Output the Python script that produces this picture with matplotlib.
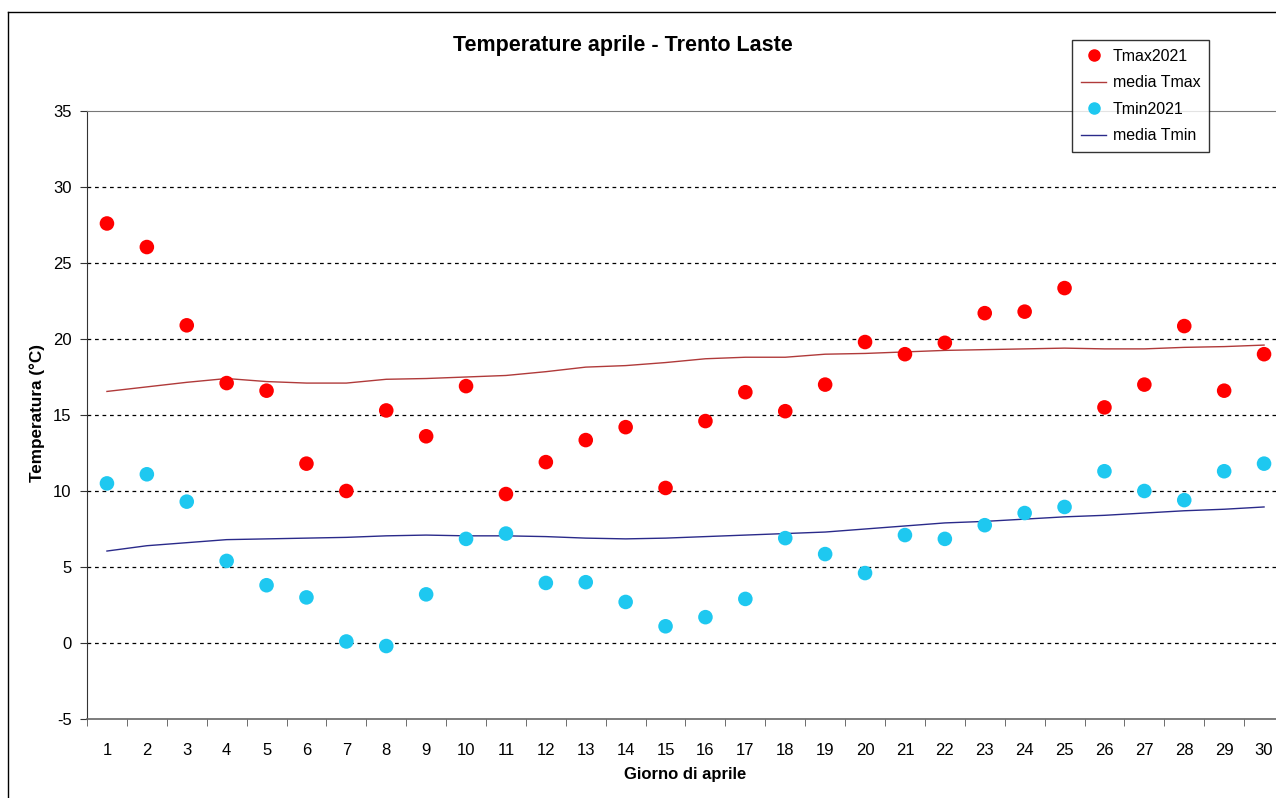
import matplotlib.pyplot as plt
from matplotlib.lines import Line2D

plt.rcParams['font.family'] = ['Liberation Sans', 'DejaVu Sans']
plt.rcParams['axes.unicode_minus'] = False

# DATI
giorni = list(range(1, 31))
tmax_2021 = [27.6, 26.05, 20.9, 17.1, 16.6, 11.8, 10.0, 15.3, 13.6, 16.9,
             9.8, 11.9, 13.35, 14.2, 10.2, 14.6, 16.5, 15.25, 17.0, 19.8,
             19.0, 19.75, 21.7, 21.8, 23.35, 15.5, 17.0, 20.85, 16.6, 19.0]
tmin_2021 = [10.5, 11.1, 9.3, 5.4, 3.8, 3.0, 0.1, -0.2, 3.2, 6.85,
             7.2, 3.95, 4.0, 2.7, 1.1, 1.7, 2.9, 6.9, 5.85, 4.6,
             7.1, 6.85, 7.75, 8.55, 8.95, 11.3, 10.0, 9.4, 11.3, 11.8]
media_tmax = [16.55, 16.85, 17.15, 17.4, 17.2, 17.1, 17.1, 17.35, 17.4, 17.5,
              17.6, 17.85, 18.15, 18.25, 18.45, 18.7, 18.8, 18.8, 19.0, 19.05,
              19.15, 19.25, 19.3, 19.35, 19.4, 19.35, 19.35, 19.45, 19.5, 19.6]
media_tmin = [6.05, 6.4, 6.6, 6.8, 6.85, 6.9, 6.95, 7.05, 7.1, 7.05,
              7.05, 7.0, 6.9, 6.85, 6.9, 7.0, 7.1, 7.2, 7.3, 7.5,
              7.7, 7.9, 8.0, 8.15, 8.3, 8.4, 8.55, 8.7, 8.8, 8.95]

# FIGURA
W, H = 1276, 798
fig = plt.figure(figsize=(W / 100, H / 100), dpi=100, facecolor='white')
ax = fig.add_axes([87 / W, 1 - 719 / H, 1197 / W, 608 / H])

# bordo esterno del grafico
fig.add_artist(Line2D([8 / W, 8 / W], [0, 1 - 12 / H], transform=fig.transFigure,
                      color='black', lw=1.0))
fig.add_artist(Line2D([8 / W, 1], [1 - 12 / H, 1 - 12 / H], transform=fig.transFigure,
                      color='black', lw=1.0))

# griglia
for v in range(0, 35, 5):
    ax.axhline(v, color='black', lw=0.9, ls=(0, (3, 3)), zorder=1)

ax.plot(giorni, media_tmax, color='#b03a3a', lw=1.0, zorder=2)
ax.plot(giorni, media_tmin, color='#2a2a8a', lw=1.0, zorder=2)
ax.scatter(giorni, tmax_2021, s=110, color='#ff0000', zorder=3, edgecolors='none')
ax.scatter(giorni, tmin_2021, s=110, color='#1ec8f0', zorder=3, edgecolors='none')

ax.set_xlim(0.5, 30.5)
ax.set_ylim(-5, 35)
ax.set_yticks(range(-5, 40, 5))
ax.set_xticks(giorni)
ax.set_xticks([g - 0.5 for g in giorni] + [30.5], minor=True)
ax.tick_params(axis='x', which='major', length=0, pad=17, labelsize=12)
ax.tick_params(axis='x', which='minor', length=5, direction='out', color='#555555')
ax.tick_params(axis='y', length=5, direction='out', labelsize=12, color='#333333', pad=6)

ax.spines['left'].set_color('#333333')
ax.spines['bottom'].set_color('#666666')
ax.spines['top'].set_color('#777777')
ax.spines['right'].set_visible(False)
ax.spines['bottom'].set_linewidth(1.2)

# TITOLI
fig.text(623 / W, 1 - 46 / H, 'Temperature aprile - Trento Laste', fontsize=15.5,
         fontweight='bold', ha='center', va='center')
fig.text(685 / W, 1 - 775 / H, 'Giorno di aprile', fontsize=12,
         fontweight='bold', ha='center', va='center')
fig.text(37.5 / W, 1 - 413 / H, 'Temperatura (°C)', fontsize=12.3, rotation=90,
         fontweight='bold', ha='center', va='center')

# LEGENDA
handles = [
    Line2D([], [], marker='o', ls='none', color='#ff0000', markersize=8),
    Line2D([], [], color='#b03a3a', lw=1.0),
    Line2D([], [], marker='o', ls='none', color='#1ec8f0', markersize=8),
    Line2D([], [], color='#2a2a8a', lw=1.0),
]
labels = ['Tmax2021', 'media Tmax', 'Tmin2021', 'media Tmin']
leg = fig.legend(handles, labels, loc='upper left', bbox_to_anchor=(1072 / W, 1 - 40 / H),
                 fontsize=11.5, frameon=True, fancybox=False, edgecolor='black',
                 borderaxespad=0, handlelength=1.6, handletextpad=0.4,
                 labelspacing=0.72, borderpad=0.55)
leg.get_frame().set_linewidth(1.0)

fig.savefig('out.png', dpi=100, facecolor='white')
